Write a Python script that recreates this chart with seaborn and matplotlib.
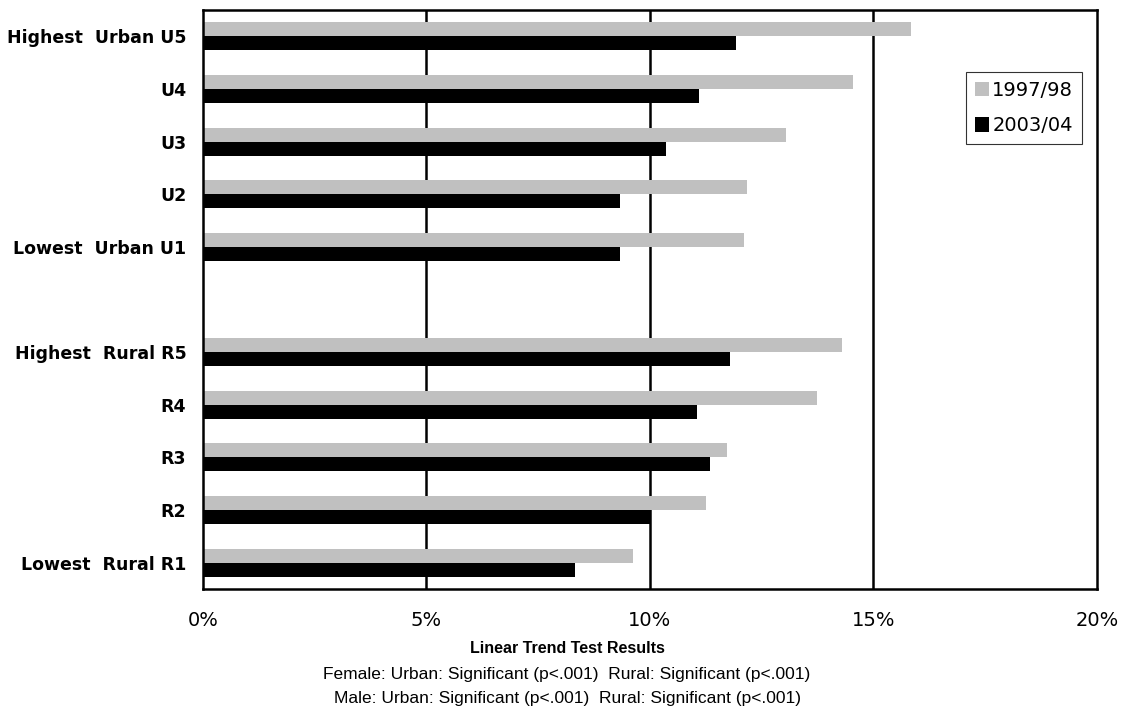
import pandas as pd
import seaborn as sns
import matplotlib.pyplot as plt

# categories (blank one is the gap between urban and rural)
groups = ["U5", "U4", "U3", "U2", "U1", " ", "R5", "R4", "R3", "R2", "R1"]
group_labels = ["Highest  Urban U5", "U4", "U3", "U2", "Lowest  Urban U1", "",
                "Highest  Rural R5", "R4", "R3", "R2", "Lowest  Rural R1"]
data_groups = ["U5", "U4", "U3", "U2", "U1", "R5", "R4", "R3", "R2", "R1"]

# percent values
y1997 = [15.85, 14.55, 13.04, 12.18, 12.10, 14.29, 13.74, 11.73, 11.25, 9.61]
y2003 = [11.93, 11.10, 10.35, 9.33, 9.32, 11.78, 11.05, 11.34, 10.02, 8.33]
periods = ["1997/98", "2003/04"]

df = pd.DataFrame({
    "group": data_groups * 2,
    "period": [periods[0]] * len(data_groups) + [periods[1]] * len(data_groups),
    "value": y1997 + y2003,
})

sns.set_style("white")
plt.rcParams["font.family"] = ["Liberation Sans", "DejaVu Sans"]
plt.rcParams["text.color"] = "black"
plt.rcParams["xtick.color"] = "black"
plt.rcParams["ytick.color"] = "black"

fig = plt.figure(figsize=(11.25, 7.11), dpi=100)
ax = fig.add_axes([0.1804, 0.1716, 0.7947, 0.8144])

sns.barplot(data=df, x="value", y="group", hue="period", order=groups,
            hue_order=periods, palette=["#c0c0c0", "#000000"], orient="h",
            width=0.53, saturation=1, edgecolor="none", ax=ax)

ax.set_xlim(0, 20)
ax.set_xticks([0, 5, 10, 15, 20])
ax.set_xticklabels(["0%", "5%", "10%", "15%", "20%"], fontsize=14,
                   family="DejaVu Sans")
ax.set_yticks(range(len(groups)))
ax.set_yticklabels(group_labels, fontsize=12.5, fontweight="bold",
                   family="DejaVu Sans")
ax.tick_params(axis="x", length=0, pad=16)
ax.tick_params(axis="y", length=0, pad=12)
ax.set_xlabel("")
ax.set_ylabel("")

for v in [5, 10, 15]:
    ax.axvline(v, color="black", lw=1.8, zorder=0)
for s in ax.spines.values():
    s.set_visible(True)
    s.set_color("black")
    s.set_linewidth(1.8)

leg = ax.legend(loc="upper right", bbox_to_anchor=(0.983, 0.893),
                prop={"family": "DejaVu Sans", "size": 14},
                frameon=True, fancybox=False, edgecolor="black",
                handlelength=0.75, handleheight=0.75, handletextpad=0.15,
                borderpad=0.45, labelspacing=0.85, borderaxespad=0)
leg.get_frame().set_linewidth(0.8)

fig.text(0.504, 0.088, "Linear Trend Test Results", ha="center", va="center",
         fontsize=11.5, fontweight="bold")
fig.text(0.504, 0.052, "Female: Urban: Significant (p<.001)  Rural: Significant (p<.001)",
         ha="center", va="center", fontsize=12.5)
fig.text(0.504, 0.018, "Male: Urban: Significant (p<.001)  Rural: Significant (p<.001)",
         ha="center", va="center", fontsize=12.5)

fig.savefig("out.png", dpi=100)
